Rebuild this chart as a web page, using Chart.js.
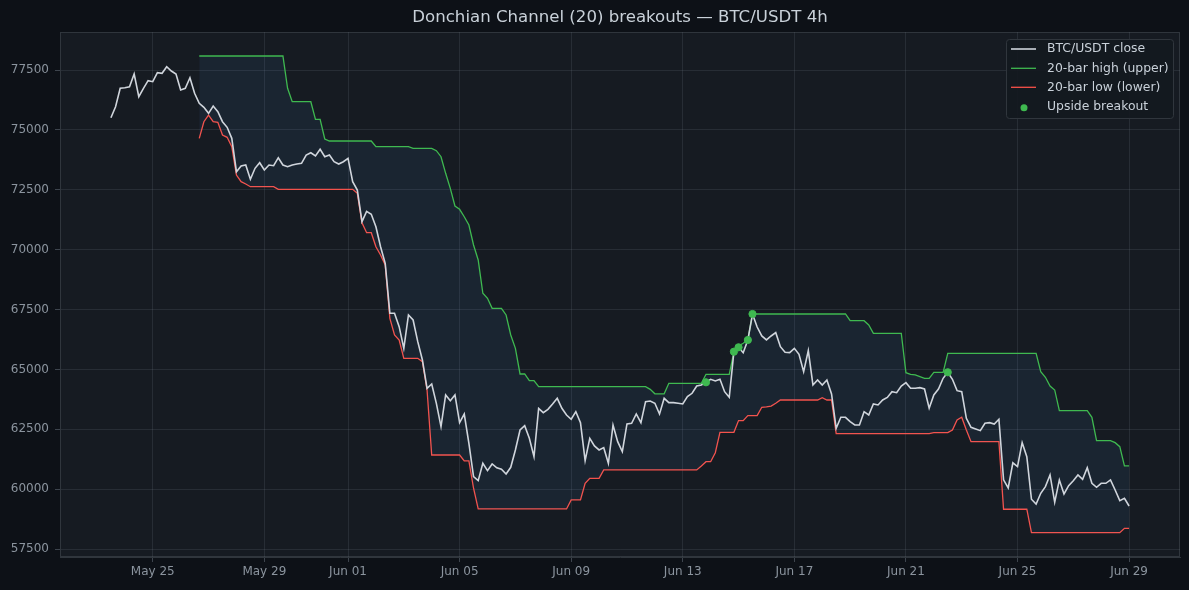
<!DOCTYPE html>
<html lang="en">

<head>
    <meta charset="UTF-8">
    <title>Donchian Channel</title>
    <style>
        html, body { margin: 0; padding: 0; background: #0d1117; }
        #wrap { width: 1189px; height: 590px; }
    </style>
</head>

<body>
    <div id="wrap"><canvas id="myCanvas"></canvas></div>
    <script src="https://cdn.jsdelivr.net/npm/chart.js@4.4.1/dist/chart.umd.min.js"></script>
    <script>
        // 4h bars, index 0 = May 23 12:00, index 219 = Jun 29 00:00
        const tickIdx = [9, 33, 51, 75, 99, 123, 147, 171, 195, 219];
        const tickLabels = ['May 25', 'May 29', 'Jun 01', 'Jun 05', 'Jun 09', 'Jun 13', 'Jun 17', 'Jun 21', 'Jun 25', 'Jun 29'];
        const yTicks = [57500, 60000, 62500, 65000, 67500, 70000, 72500, 75000, 77500];

        const close = [
            75509, 75968, 76736, 76760, 76803, 77333, 76385, 76736, 77054, 77012,
            77387, 77362, 77639, 77458, 77333, 76665, 76736, 77179, 76527, 76110,
            75943, 75692, 75997, 75759, 75342, 75108, 74648, 73254, 73492, 73534,
            72937, 73396, 73630, 73325, 73534, 73505, 73839, 73534, 73463, 73534,
            73576, 73605, 73951, 74047, 73910, 74189, 73881, 73951, 73672, 73576,
            73672, 73814, 72837, 72490, 71167, 71600, 71480, 70958, 70123, 69430,
            67342, 67342, 66783, 65880, 67271, 67063, 66157, 65393, 64211, 64391,
            63584, 62608, 63931, 63694, 63931, 62775, 63137, 61914, 60520, 60353,
            61079, 60771, 61051, 60890, 60829, 60633, 60912, 61635, 62470, 62650,
            62122, 61356, 63374, 63192, 63333, 63555, 63793, 63374, 63096, 62917,
            63234, 62775, 61189, 62122, 61802, 61635, 61732, 61079, 62679, 61982,
            61564, 62720, 62750, 63138, 62775, 63651, 63681, 63584, 63138, 63793,
            63611, 63611, 63584, 63556, 63861, 64002, 64307, 64349, 64461, 64586,
            64516, 64586, 64070, 63835, 65740, 65923, 65698, 66228, 67313, 66770,
            66395, 66228, 66395, 66534, 65950, 65713, 65698, 65880, 65630, 64904,
            65781, 64349, 64557, 64349, 64557, 63973, 62540, 62999, 62999, 62817,
            62679, 62679, 63235, 63096, 63556, 63514, 63722, 63830, 64070, 64028,
            64307, 64446, 64210, 64210, 64237, 64182, 63376, 63931, 64182, 64628,
            64880, 64586, 64111, 64070, 62958, 62582, 62512, 62442, 62750, 62775,
            62720, 62917, 60390, 60050, 61100, 60940, 61940, 61356, 59577, 59380,
            59827, 60104, 60591, 59451, 60383, 59799, 60145, 60353, 60591, 60409,
            60896, 60243, 60076, 60243, 60243, 60383, 59965, 59521, 59618, 59297
        ];

        // channel starts at bar 19 (first full 20-bar window)
        const channelStart = 19;
        const upper = [
            78085, 78085, 78085, 78085, 78085, 78085, 78085, 78085, 78085, 78085,
            78085, 78085, 78085, 78085, 78085, 78085, 78085, 78085, 78085, 76736,
            76177, 76177, 76177, 76177, 76177, 75442, 75442, 74619, 74536, 74536,
            74536, 74536, 74536, 74536, 74536, 74536, 74536, 74536, 74298, 74298,
            74298, 74298, 74298, 74298, 74298, 74298, 74231, 74231, 74231, 74231,
            74231, 74131, 73880, 73187, 72561, 71822, 71684, 71375, 71029, 70194,
            69568, 68177, 67968, 67550, 67550, 67550, 67271, 66436, 65880, 64808,
            64808, 64528, 64528, 64278, 64278, 64278, 64278, 64278, 64278, 64278,
            64278, 64278, 64278, 64278, 64278, 64278, 64278, 64278, 64278, 64278,
            64278, 64278, 64278, 64278, 64278, 64278, 64278, 64168, 63980, 63980,
            63980, 64419, 64419, 64419, 64419, 64419, 64419, 64419, 64419, 64795,
            64795, 64795, 64795, 64795, 64795, 65740, 65977, 66089, 66228, 67313,
            67313, 67313, 67313, 67313, 67313, 67313, 67313, 67313, 67313, 67313,
            67313, 67313, 67313, 67313, 67313, 67313, 67313, 67313, 67313, 67313,
            67035, 67035, 67035, 67035, 66855, 66507, 66507, 66507, 66507, 66507,
            66507, 66507, 64863, 64795, 64770, 64697, 64628, 64628, 64878, 64878,
            64878, 65672, 65672, 65672, 65672, 65672, 65672, 65672, 65672, 65672,
            65672, 65672, 65672, 65672, 65672, 65672, 65672, 65672, 65672, 65672,
            65672, 64905, 64670, 64307, 64140, 63276, 63276, 63276, 63276, 63276,
            63276, 63276, 62999, 62024, 62024, 62024, 62024, 61940, 61773, 60967,
            60967
        ];
        const lower = [
            74648, 75342, 75621, 75342, 75316, 74786, 74690, 74298, 73116, 72837,
            72740, 72628, 72628, 72628, 72628, 72628, 72628, 72518, 72518, 72518,
            72518, 72518, 72518, 72518, 72518, 72518, 72518, 72518, 72518, 72518,
            72518, 72518, 72518, 72518, 72352, 71125, 70708, 70708, 70123, 69777,
            69359, 67133, 66436, 66228, 65463, 65463, 65463, 65463, 65324, 64140,
            61426, 61426, 61426, 61426, 61426, 61426, 61426, 61176, 61176, 60037,
            59172, 59172, 59172, 59172, 59172, 59172, 59172, 59172, 59172, 59172,
            59172, 59172, 59172, 59172, 59172, 59172, 59172, 59172, 59172, 59172,
            59548, 59548, 59548, 60244, 60453, 60453, 60453, 60800, 60800, 60800,
            60800, 60800, 60800, 60800, 60800, 60800, 60800, 60800, 60800, 60800,
            60800, 60800, 60800, 60800, 60800, 60800, 60800, 60800, 60967, 61146,
            61146, 61522, 62374, 62374, 62374, 62374, 62861, 62861, 63070, 63070,
            63070, 63418, 63432, 63470, 63584, 63722, 63722, 63722, 63722, 63722,
            63722, 63722, 63722, 63722, 63819, 63722, 63722, 62320, 62320, 62320,
            62320, 62320, 62320, 62320, 62320, 62320, 62320, 62320, 62320, 62320,
            62320, 62320, 62320, 62320, 62320, 62320, 62320, 62320, 62360, 62360,
            62360, 62360, 62470, 62888, 63000, 62470, 61982, 61982, 61982, 61982,
            61982, 61982, 61982, 59160, 59160, 59160, 59160, 59160, 59160, 58183,
            58183, 58183, 58183, 58183, 58183, 58183, 58183, 58183, 58183, 58183,
            58183, 58183, 58183, 58183, 58183, 58183, 58183, 58183, 58183, 58364,
            58364
        ];
        // bars where close broke above the prior 20-bar high
        const breakoutIdx = [128, 134, 135, 137, 138, 180];

        const names = ['BTC/USDT close', '20-bar high (upper)', '20-bar low (lower)', 'Upside breakout'];
        const colClose = '#d0d5dc';
        const colUp = '#3fb950';
        const colLow = '#f85149';
        const font = 'DejaVu Sans';

        const closePts = close.map((v, i) => ({ x: i, y: v }));
        const upperPts = upper.map((v, i) => ({ x: i + channelStart, y: v }));
        const lowerPts = lower.map((v, i) => ({ x: i + channelStart, y: v }));
        const breakPts = breakoutIdx.map(i => ({ x: i, y: close[i] }));

        const bgPlugin = {
            id: 'bg',
            afterLayout(chart) {
                // centre the title over the plot area, not the whole canvas
                if (chart.titleBlock) chart.titleBlock.left = chart.chartArea.left;
            },
            beforeDraw(chart) {
                const c = chart.ctx, a = chart.chartArea;
                c.save();
                c.fillStyle = '#0d1117';
                c.fillRect(0, 0, chart.width, chart.height);
                c.fillStyle = '#161b22';
                c.fillRect(a.left, a.top, a.right - a.left, a.bottom - a.top);
                c.strokeStyle = '#30363d';
                c.lineWidth = 1;
                c.strokeRect(a.left + 0.5, a.top + 0.5, a.right - a.left - 1, a.bottom - a.top - 1);
                c.restore();
            }
        };

        // legend box drawn inside the plot, top right
        const legendPlugin = {
            id: 'boxLegend',
            afterDraw(chart) {
                const c = chart.ctx;
                const x = 1006.5, y = 39.5, w = 167, h = 79;
                c.save();
                c.fillStyle = 'rgba(20,25,32,0.92)';
                c.strokeStyle = '#30363d';
                c.lineWidth = 1;
                c.beginPath();
                c.roundRect(x, y, w, h, 3);
                c.fill();
                c.stroke();
                const rows = [49, 68.3, 87.3, 106.7];
                const cols = [colClose, colUp, colLow, colUp];
                c.font = '12.4px "' + font + '"';
                c.textBaseline = 'middle';
                rows.forEach((ry, k) => {
                    if (k < 3) {
                        c.strokeStyle = cols[k];
                        c.lineWidth = k === 0 ? 1.6 : 1.3;
                        c.beginPath();
                        c.moveTo(1011, ry);
                        c.lineTo(1036, ry);
                        c.stroke();
                    } else {
                        c.fillStyle = cols[k];
                        c.beginPath();
                        c.arc(1024, ry + 1, 3.5, 0, Math.PI * 2);
                        c.fill();
                    }
                    c.fillStyle = '#c9d1d9';
                    c.fillText(names[k], 1047, ry);
                });
                c.restore();
            }
        };

        const ctx = document.getElementById('myCanvas').getContext('2d');
        const myChart = new Chart(ctx, {
            type: 'line',
            data: {
                datasets: [{
                    type: 'scatter',
                    label: names[3],
                    data: breakPts,
                    backgroundColor: colUp,
                    borderColor: colUp,
                    pointRadius: 3.6,
                    showLine: false
                }, {
                    label: names[0],
                    data: closePts,
                    borderColor: colClose,
                    borderWidth: 1.6,
                    pointRadius: 0,
                    fill: false
                }, {
                    label: names[1],
                    data: upperPts,
                    borderColor: colUp,
                    borderWidth: 1.3,
                    pointRadius: 0,
                    fill: { target: '+1' },
                    backgroundColor: 'rgba(88,166,255,0.07)'
                }, {
                    label: names[2],
                    data: lowerPts,
                    borderColor: colLow,
                    borderWidth: 1.3,
                    pointRadius: 0,
                    fill: false
                }]
            },
            options: {
                responsive: true,
                maintainAspectRatio: false,
                animation: false,
                layout: { padding: { left: 0, right: 9, top: 0, bottom: 0 } },
                plugins: {
                    legend: { display: false },
                    tooltip: { enabled: false },
                    title: {
                        display: true,
                        text: 'Donchian Channel (20) breakouts — BTC/USDT 4h',
                        color: '#c9d1d9',
                        font: { family: font, size: 16.6, weight: 'normal' },
                        padding: { top: 7.5, bottom: 4.6 }
                    }
                },
                scales: {
                    x: {
                        type: 'linear',
                        min: -10.95,
                        max: 229.95,
                        afterBuildTicks: s => { s.ticks = tickIdx.map(v => ({ value: v })); },
                        afterFit: s => { s.height = 33; },
                        ticks: {
                            color: '#8b949e',
                            font: { family: font, size: 12 },
                            padding: 3,
                            maxRotation: 0,
                            autoSkip: false,
                            callback: v => tickLabels[tickIdx.indexOf(v)]
                        },
                        grid: { color: 'rgba(110,118,129,0.2)', tickColor: '#3d444d', tickLength: 5 },
                        border: { color: '#30363d' }
                    },
                    y: {
                        min: 57166,
                        max: 79087,
                        afterBuildTicks: s => { s.ticks = yTicks.map(v => ({ value: v })); },
                        afterFit: s => { s.width = 60; },
                        ticks: {
                            color: '#8b949e',
                            font: { family: font, size: 12 },
                            padding: 6,
                            callback: v => String(v)
                        },
                        grid: { color: 'rgba(110,118,129,0.2)', tickColor: '#3d444d', tickLength: 5 },
                        border: { color: '#30363d' }
                    }
                }
            },
            plugins: [bgPlugin, legendPlugin]
        });
    </script>
</body>

</html>
